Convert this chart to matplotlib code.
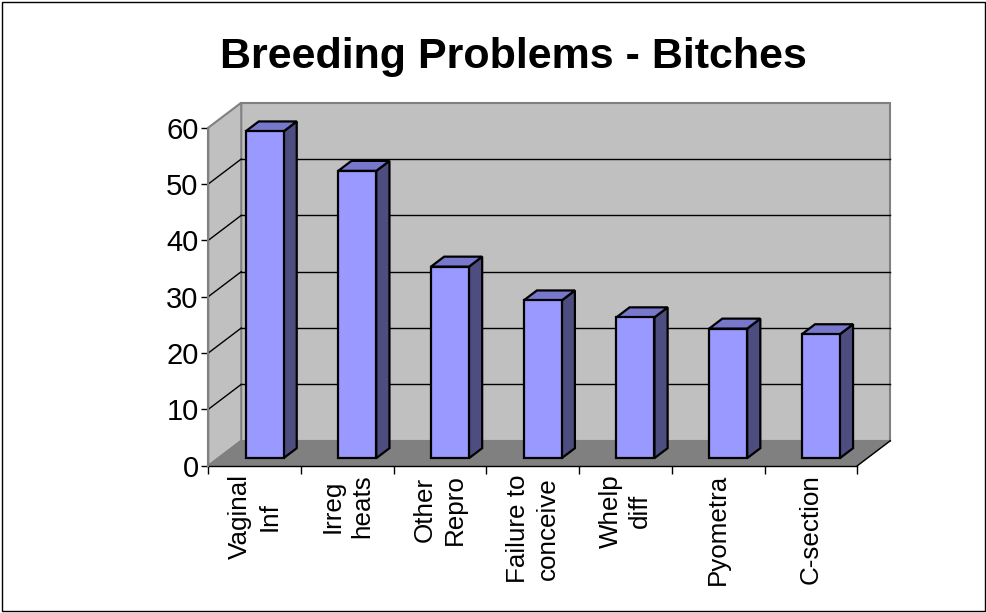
import matplotlib
matplotlib.use("Agg")
import matplotlib.pyplot as plt
from matplotlib.patches import Polygon, Rectangle

plt.rcParams['font.family'] = ['Liberation Sans', 'DejaVu Sans']

title = "Breeding Problems - Bitches"
categories = ["Vaginal\nInf", "Irreg\nheats", "Other\nRepro", "Failure to\nconceive",
              "Whelp\ndiff", "Pyometra", "C-section"]
counts = [58, 51, 34, 28, 25, 23, 22]
yticks = [0, 10, 20, 30, 40, 50, 60]

# fake 3d: depth offset of the back wall, in data units
DX = 0.356
DY = 4.44
d0, d1 = 0.3, 0.7   # bar depth range
bw = 0.41           # bar width

front_c = '#9999ff'
top_c = '#7777cc'
side_c = '#4d4d80'

fig = plt.figure(figsize=(9.87, 6.13), dpi=100)
ax = fig.add_axes([0.2110, 0.2403, 0.6576, 0.5514])
n = len(categories)
ymax = yticks[-1]
ax.set_xlim(0, n)
ax.set_ylim(0, ymax)
ax.patch.set_visible(False)

# walls and floor
ax.add_patch(Polygon([(DX, DY), (n + DX, DY), (n + DX, ymax + DY), (DX, ymax + DY)],
                     fc='#c0c0c0', ec='#808080', lw=1.5, clip_on=False, zorder=0))
ax.add_patch(Polygon([(0, 0), (DX, DY), (DX, ymax + DY), (0, ymax)],
                     fc='#c0c0c0', ec='#808080', lw=1.5, clip_on=False, zorder=0))
ax.add_patch(Polygon([(0, 0), (n, 0), (n + DX, DY), (DX, DY)],
                     fc='#808080', ec='#808080', lw=1, clip_on=False, zorder=0.5))
ax.plot([n, n + DX], [0, DY], color='black', lw=1, clip_on=False, zorder=0.6)

# gridlines
for v in yticks[1:-1]:
    ax.plot([DX, n + DX], [v + DY, v + DY], color='black', lw=1, clip_on=False, zorder=1)
    ax.plot([0, DX], [v, v + DY], color='black', lw=1, clip_on=False, zorder=1)

# bars
for i, v in enumerate(counts):
    x0 = i + 0.5 - bw / 2
    x1 = x0 + bw
    kw = dict(ec='black', lw=1.6, joinstyle='miter', clip_on=False, zorder=3)
    ax.add_patch(Polygon([(x1 + d0 * DX, d0 * DY), (x1 + d1 * DX, d1 * DY),
                          (x1 + d1 * DX, v + d1 * DY), (x1 + d0 * DX, v + d0 * DY)],
                         fc=side_c, **kw))
    ax.add_patch(Polygon([(x0 + d0 * DX, v + d0 * DY), (x1 + d0 * DX, v + d0 * DY),
                          (x1 + d1 * DX, v + d1 * DY), (x0 + d1 * DX, v + d1 * DY)],
                         fc=top_c, **kw))
    ax.add_patch(Rectangle((x0 + d0 * DX, d0 * DY), bw, v, fc=front_c, **kw))

# axes
for s in ['top', 'right']:
    ax.spines[s].set_visible(False)
ax.spines['left'].set_color('#808080')
ax.spines['left'].set_linewidth(1.5)
ax.spines['bottom'].set_color('black')
ax.spines['bottom'].set_linewidth(1)
ax.spines['bottom'].set_zorder(2)

ax.set_yticks(yticks)
ax.set_yticklabels([str(t) for t in yticks], fontsize=21)
ax.tick_params(axis='y', length=5, width=1, color='black', pad=2)

ax.set_xticks(range(n + 1))
ax.set_xticklabels([])
ax.tick_params(axis='x', which='major', length=6, width=1, color='black')
ax.set_xticks([i + 0.5 for i in range(n)], minor=True)
ax.set_xticklabels(categories, minor=True, rotation=90, fontsize=18.7,
                   ha='center', va='top', multialignment='center', linespacing=1.3)
ax.tick_params(axis='x', which='minor', length=0, pad=6)

fig.text(0.52, 1 - 57 / 613, title, fontsize=31, fontweight='bold',
         ha='center', va='center')

fig.add_artist(Rectangle((0.002, 0.003), 0.996, 0.994, transform=fig.transFigure,
                         fill=False, ec='black', lw=1))

fig.savefig('out.png', dpi=100)
